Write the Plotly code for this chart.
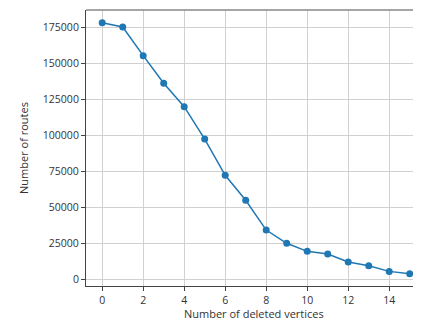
import plotly.graph_objects as go

deleted = list(range(16))
routes = [178200, 175200, 155300, 136100, 119900, 97400, 72200, 54900,
          34200, 25000, 19400, 17600, 12000, 9400, 5500, 3900]

y_ticks = [0, 25000, 50000, 75000, 100000, 125000, 150000, 175000]
x_ticks = [0, 2, 4, 6, 8, 10, 12, 14]

x_title = "Number of deleted vertices"
y_title = "Number of routes"

fig = go.Figure(go.Scatter(
    x=deleted, y=routes, mode="lines+markers",
    line=dict(color="#1f77b4", width=1.5),
    marker=dict(color="#1f77b4", size=7),
))

# the page body has an 8px default margin, so the figure is offset by (8, 8)
font = dict(family="Open Sans, Liberation Sans, sans-serif", size=10.5, color="#333")
fig.update_layout(
    width=413, height=312,
    margin=dict(l=78, r=0, t=2, b=34),
    paper_bgcolor="white", plot_bgcolor="white",
    showlegend=False, font=font,
    xaxis=dict(range=[-0.79, 15.55], tickvals=x_ticks, showgrid=True,
               gridcolor="#d0d0d0", gridwidth=1, zeroline=False,
               showline=True, linecolor="#444", linewidth=1,
               ticks="outside", ticklen=4, tickcolor="#444"),
    yaxis=dict(range=[-4650, 187000], tickvals=y_ticks, tickformat="d",
               showgrid=True,
               gridcolor="#d0d0d0", gridwidth=1, zeroline=False,
               showline=True, linecolor="#444", linewidth=1,
               ticks="outside", ticklen=4, tickcolor="#444",
               title=dict(text=y_title, standoff=12, font=dict(size=11))),
    annotations=[dict(text=x_title, xref="paper", yref="paper", x=0.5, y=0,
                      xanchor="center", yanchor="top", yshift=-18,
                      showarrow=False, font=dict(size=11))],
    shapes=[dict(type="line", xref="paper", yref="paper", x0=0, x1=1, y0=1, y1=1,
                 line=dict(color="#888", width=1.5))],
)

fig.write_html("out.html")
